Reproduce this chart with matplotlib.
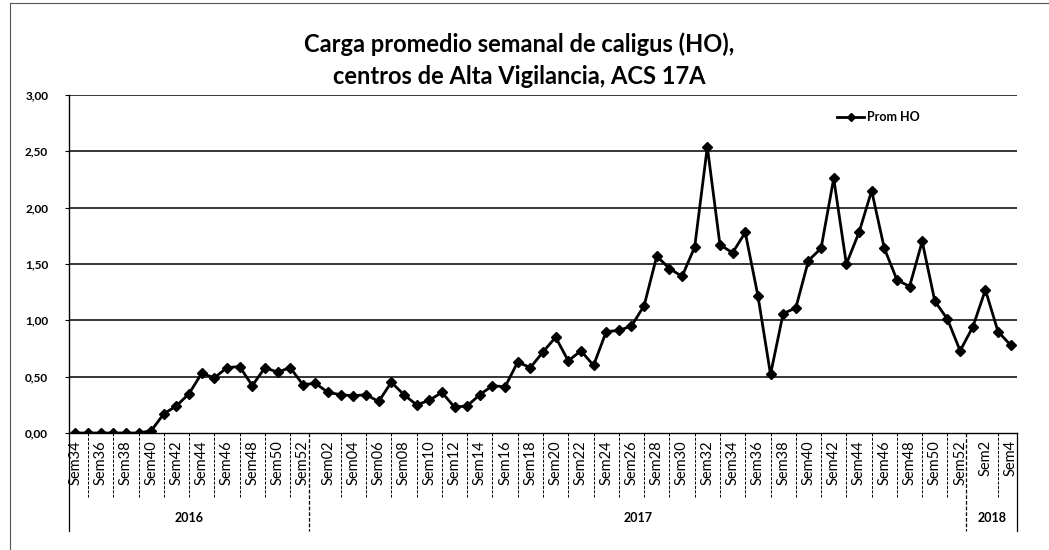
import matplotlib
matplotlib.use("Agg")
import matplotlib.pyplot as plt
from matplotlib.lines import Line2D
import matplotlib.transforms as mtransforms

plt.rcParams['font.family'] = ['Lato', 'DejaVu Sans']

# ---------------- data ----------------
weeks_2016 = [f"Sem{w}" for w in range(34, 53)]
weeks_2017 = [f"Sem{w:02d}" for w in range(1, 53)]
weeks_2018 = [f"Sem{w}" for w in range(1, 5)]

values_2016 = [0.00, 0.00, 0.00, 0.00, 0.00, 0.00, 0.02, 0.17, 0.24, 0.35,
               0.53, 0.49, 0.58, 0.59, 0.42, 0.58, 0.54, 0.58, 0.43]
values_2017 = [0.44, 0.36, 0.34, 0.33, 0.34, 0.28, 0.45, 0.34, 0.25, 0.29,
               0.36, 0.23, 0.24, 0.34, 0.42, 0.41, 0.63, 0.58, 0.72, 0.85,
               0.64, 0.73, 0.60, 0.90, 0.91, 0.95, 1.13, 1.57, 1.46, 1.39,
               1.65, 2.54, 1.67, 1.60, 1.78, 1.22, 0.52, 1.06, 1.11, 1.53,
               1.64, 2.26, 1.50, 1.78, 2.15, 1.64, 1.36, 1.30, 1.70, 1.17,
               1.01, 0.73]
values_2018 = [0.94, 1.27, 0.90, 0.78]

years = ["2016", "2017", "2018"]
series_name = "Prom HO"
title = "Carga promedio semanal de caligus (HO),\ncentros de Alta Vigilancia, ACS 17A"
y_ticks = [0.0, 0.5, 1.0, 1.5, 2.0, 2.5, 3.0]

# ---------------- build ----------------
labels = weeks_2016 + weeks_2017 + weeks_2018
values = values_2016 + values_2017 + values_2018
x = list(range(len(values)))
group_sizes = [len(weeks_2016), len(weeks_2017), len(weeks_2018)]

fig = plt.figure(figsize=(10.49, 5.5), dpi=100)
ax = fig.add_axes([69/1049, 1-433/550, (1017-69)/1049, (433-95)/550])

for yv in y_ticks[1:]:
    ax.axhline(yv, color='black', lw=1.1, zorder=1)

ax.plot(x, values, color='black', lw=2.0, marker='D', markersize=5.5,
        label=series_name, zorder=3)

ax.set_xlim(-0.5, len(values) - 0.5)
ax.set_ylim(0, 3.0)
ax.set_yticks(y_ticks)
ax.set_yticklabels([f"{v:.2f}".replace('.', ',') for v in y_ticks],
                   fontsize=8.5, fontweight='bold')
ax.tick_params(axis='y', length=3, width=0.8, pad=12)

ax.set_xticks(x[::2])
ax.set_xticklabels(labels[::2], rotation=90, fontsize=10.5, va='top',
                   ha='center')
ax.tick_params(axis='x', length=0, pad=5)

for s in ['top', 'right']:
    ax.spines[s].set_visible(False)
ax.spines['left'].set_linewidth(1.0)
ax.spines['bottom'].set_linewidth(1.0)

trans = mtransforms.blended_transform_factory(ax.transData, ax.transAxes)
px = 1.0 / (433 - 95)  # axes fraction per pixel (vertical)

# year boundaries
bounds = [-0.5]
for g in group_sizes:
    bounds.append(bounds[-1] + g)

# category separators below axis (between label boxes)
for xs in range(1, len(values) - 1, 2):
    if min(abs(xs - b) for b in bounds) < 0.6:
        continue
    ax.add_line(Line2D([xs, xs], [0, -64 * px], transform=trans, color='black',
                       lw=0.7, ls=(0, (3, 1.5)), clip_on=False))

for i, b in enumerate(bounds):
    ax.add_line(Line2D([b, b], [0, -98 * px], transform=trans, color='black',
                       lw=0.9, ls='-' if i in (0, len(bounds) - 1) else (0, (3, 1.5)),
                       clip_on=False))
for i, yr in enumerate(years):
    cx = (bounds[i] + bounds[i + 1]) / 2
    ax.text(cx, -85 * px, yr, transform=trans, ha='center', va='center',
            fontsize=9, fontweight='bold')

leg = ax.legend(loc='center left', bbox_to_anchor=(0.81, 0.935), frameon=False,
                handlelength=2.2, handletextpad=0.2, borderpad=0, borderaxespad=0,
                prop={'weight': 'bold', 'size': 9})
for h in leg.legend_handles:
    h.set_markersize(4)

fig.text(0.495, 1 - 60/550, title, ha='center', va='center', fontsize=17,
         fontweight='bold', linespacing=1.45)

# chart border (top & left)
fig.add_artist(Line2D([10/1049, 1], [1 - 3/550, 1 - 3/550], transform=fig.transFigure,
                      color='#555555', lw=0.8))
fig.add_artist(Line2D([10/1049, 10/1049], [0, 1 - 3/550], transform=fig.transFigure,
                      color='#555555', lw=0.8))

fig.savefig("out.png", dpi=100)
